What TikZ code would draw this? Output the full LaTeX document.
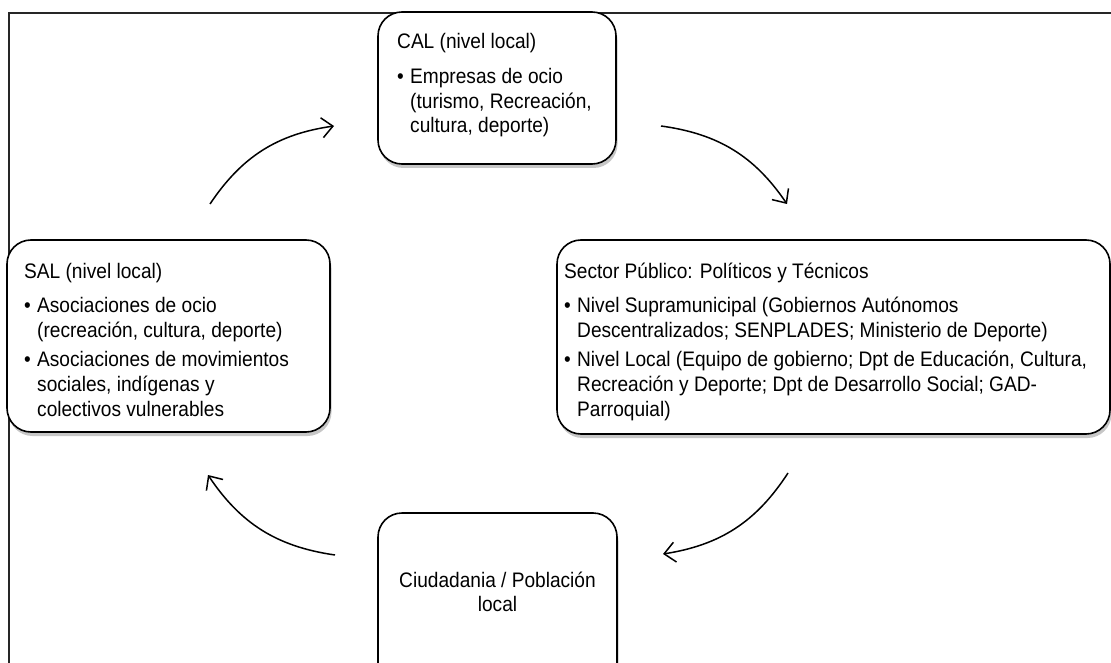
\documentclass[tikz,border=0pt]{standalone}
\usepackage{fontspec}
\setmainfont{Liberation Sans}[FakeStretch=0.91]
\usetikzlibrary{shadows,arrows.meta}
\newcommand\tline[1]{\hbox{#1}}
\newcommand\bul{\hbox to 13pt{\char"2022\hss}}
\newcommand\ind{\hskip 13pt}
\begin{document}
\begin{tikzpicture}[x=1pt,y=-1pt,
  box/.style={draw=black, line width=1.6pt, rounded corners=24pt, fill=white,
    drop shadow={shadow xshift=1.5pt, shadow yshift=-4pt, fill=black, opacity=0.22},
    inner sep=0pt},
  txt/.style={inner sep=0pt, anchor=base west, font=\fontsize{21pt}{24.8pt}\selectfont},
  ctxt/.style={inner sep=0pt, anchor=base, font=\fontsize{21pt}{24.8pt}\selectfont},
  cyc/.style={line width=1.5pt, -{Straight Barb[length=11pt,width=20pt,line width=1.5pt]}, bend left=24},
  frame/.style={line width=1.8pt, draw=black!85}]
\useasboundingbox (0,0) rectangle (1111,663);
\draw[frame] (9,663) -- (9,13) -- (1111,13);

\node[box, minimum width=238pt, minimum height=152pt] (cal) at (497,88) {};
\node[box, minimum width=323pt, minimum height=192pt] (sal) at (168.5,336) {};
\node[box, minimum width=553pt, minimum height=194pt] (sec) at (833.5,337) {};
\node[box, minimum width=239pt, minimum height=177pt] (ciu) at (497.5,601.5) {};

\node[txt] (caltxt) at (397,49) {\vtop{\baselineskip=24.8pt
  \tline{CAL (nivel local)}\vskip 9.5pt
  \tline{\bul Empresas de ocio}
  \tline{\ind (turismo, Recreación,}
  \tline{\ind cultura, deporte)}}};

\node[txt] (saltxt) at (24,278) {\vtop{\baselineskip=24.8pt
  \tline{SAL (nivel local)}\vskip 10pt
  \tline{\bul Asociaciones de ocio}
  \tline{\ind (recreación, cultura, deporte)}\vskip 4.5pt
  \tline{\bul Asociaciones de movimientos}
  \tline{\ind sociales, indígenas y}
  \tline{\ind colectivos vulnerables}}};

\node[txt] (sectxt) at (564,278) {\vtop{\baselineskip=24.8pt
  \tline{Sector Público: Políticos y Técnicos}\vskip 10pt
  \tline{\bul Nivel Supramunicipal (Gobiernos Autónomos}
  \tline{\ind Descentralizados; SENPLADES; Ministerio de Deporte)}\vskip 4.5pt
  \tline{\bul Nivel Local (Equipo de gobierno; Dpt de Educación, Cultura,}
  \tline{\ind Recreación y Deporte; Dpt de Desarrollo Social; GAD-}
  \tline{\ind Parroquial)}}};

\node[ctxt] (ciutxt) at (497.5,587) {\vtop{\baselineskip=24.8pt
  \hbox to 0pt{\hss Ciudadania / Población\hss}
  \hbox to 0pt{\hss local\hss}}};

\coordinate (a1s) at (210,204);
\coordinate (a1e) at (334,126);
\coordinate (a2s) at (661,126);
\coordinate (a2e) at (787,204);
\coordinate (a3s) at (788,473);
\coordinate (a3e) at (663,554);
\coordinate (a4s) at (335,555);
\coordinate (a4e) at (208,475);
\draw[cyc] (a1s) to (a1e);
\draw[cyc] (a2s) to (a2e);
\draw[cyc] (a3s) to (a3e);
\draw[cyc] (a4s) to (a4e);
\end{tikzpicture}
\end{document}
